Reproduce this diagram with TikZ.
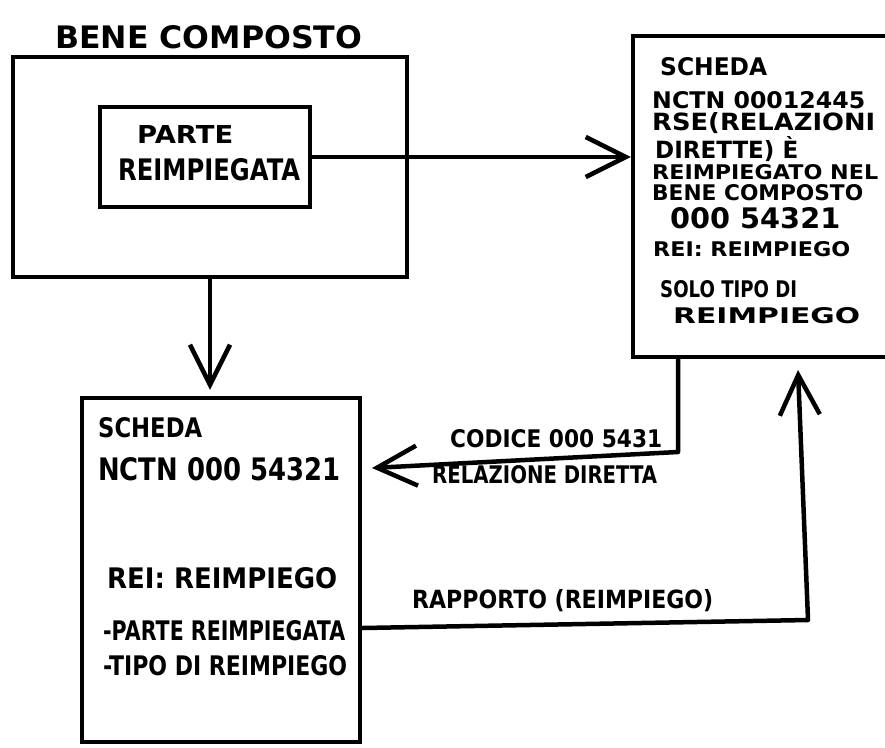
\documentclass[tikz,border=0pt]{standalone}
\usepackage{fontspec}
\setmainfont{DejaVu Sans}
\usepackage{graphicx}
\usetikzlibrary{arrows.meta}
\newcommand\hw[3]{\resizebox{#1pt}{#2pt}{\bfseries #3}}
\begin{document}
\begin{tikzpicture}[x=1pt,y=-1pt,
  box/.style={draw, line width=4.5pt, inner sep=0pt, rectangle},
  txt/.style={anchor=base west, inner sep=0pt},
  conn/.style={line width=4.5pt, line cap=round, line join=round},
  harrow/.style={conn, -{Straight Barb[length=40pt,width=40pt,line width=4.5pt]}}]
\useasboundingbox (0,0) rectangle (885,747);
\clip (0,0) rectangle (885,747);
\fill[white] (0,0) rectangle (885,747);

% boxes
\node[box, minimum width=394pt, minimum height=220pt] (outer) at (210,167) {};
\node[box, minimum width=210pt, minimum height=100pt] (inner) at (205,157) {};
\node[box, minimum width=280pt, minimum height=321pt] (scheda1) at (773,196.5) {};
\node[box, minimum width=278pt, minimum height=344pt] (scheda2) at (221,570) {};

% title and inner text
\node[txt] (title) at (55,48) {\hw{307}{23}{BENE COMPOSTO}};
\node[txt] (p1) at (137,143) {\hw{96}{18}{PARTE}};
\node[txt] (p2) at (118,180) {\hw{182}{22}{REIMPIEGATA}};

% right card
\node[txt] (r1) at (660,75) {\hw{107}{18}{SCHEDA}};
\node[txt] (r2) at (652,108) {\hw{213}{17}{NCTN 00012445}};
\node[txt] (r3) at (652,130) {\hw{223}{18}{RSE(RELAZIONI}};
\node[txt] (r4) at (655,158) {\hw{143}{22}{DIRETTE) È}};
\node[txt] (r5) at (652,179) {\hw{226}{15}{REIMPIEGATO NEL}};
\node[txt] (r6) at (652,200) {\hw{211}{16}{BENE COMPOSTO}};
\node[txt] (r7) at (670,228) {\hw{170}{21}{000 54321}};
\node[txt] (r8) at (653,256) {\hw{197}{15}{REI: REIMPIEGO}};
\node[txt] (r9) at (660,297) {\hw{137}{17}{SOLO TIPO DI}};
\node[txt] (r10) at (673,323) {\hw{187}{16}{REIMPIEGO}};

% lower card
\node[txt] (l1) at (98,437) {\hw{104}{20}{SCHEDA}};
\node[txt] (l2) at (98,480) {\hw{242}{23}{NCTN 000 54321}};
\node[txt] (l3) at (107,588) {\hw{230}{21}{REI: REIMPIEGO}};
\node[txt] (l4) at (103,640) {\hw{242}{20}{-PARTE REIMPIEGATA}};
\node[txt] (l5) at (103,675) {\hw{244}{20}{-TIPO DI REIMPIEGO}};

% connector labels
\node[txt] (m1) at (450,447) {\hw{212}{18}{CODICE 000 5431}};
\node[txt] (m2) at (432,483) {\hw{225}{18}{RELAZIONE DIRETTA}};
\node[txt] (m3) at (412,608) {\hw{301}{19}{RAPPORTO (REIMPIEGO)}};

% connectors
\draw[harrow] (inner.east) -- (inner.east -| scheda1.west);
\draw[harrow, shorten >=6pt] (outer.south) -- (outer.south |- scheda2.north);
\coordinate (k1) at (678,452);
\coordinate (k2) at (372,468);
\draw[harrow] (k1 |- scheda1.south) -- (k1) -- (k2);
\coordinate (k4) at (0,628);
\coordinate (k3) at (808,620);
\coordinate (k5) at (798,370);
\draw[harrow] (scheda2.east |- k4) -- (k3) -- (k5);
\end{tikzpicture}
\end{document}
